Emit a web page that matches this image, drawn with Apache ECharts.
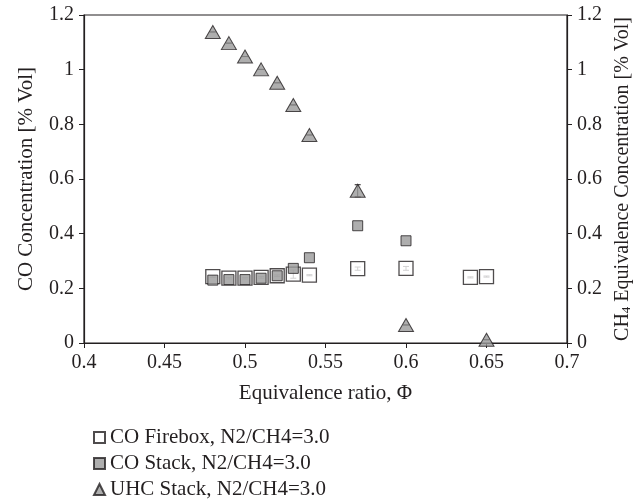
<!DOCTYPE html>
<html>
<head>
<meta charset="utf-8">
<script src="https://cdn.jsdelivr.net/npm/echarts@6/dist/echarts.min.js"></script>
<style>
  html, body { margin: 0; padding: 0; background: #fff; }
  #chart { width: 637px; height: 500px; }
</style>
</head>
<body>
<div id="chart"></div>
<script>
// equivalence ratio values for each series
const phiFirebox = [0.48, 0.49, 0.50, 0.51, 0.52, 0.53, 0.54, 0.57, 0.60, 0.64, 0.65]
const coFirebox = [0.243, 0.237, 0.237, 0.240, 0.246, 0.252, 0.248, 0.272, 0.273, 0.240, 0.243]
const coFireboxErr = [0.003, 0.003, 0.003, 0.003, 0.003, 0.015, 0.002, 0.006, 0.007, 0.002, 0.002]

const phiStack = [0.48, 0.49, 0.50, 0.51, 0.52, 0.53, 0.54, 0.57, 0.60]
const coStack = [0.230, 0.232, 0.232, 0.237, 0.246, 0.273, 0.312, 0.429, 0.374]

const phiUhc = [0.48, 0.49, 0.50, 0.51, 0.52, 0.53, 0.54, 0.57, 0.60, 0.65]
const uhcStack = [1.138, 1.097, 1.048, 1.001, 0.952, 0.871, 0.761, 0.557, 0.066, 0.012]
const uhcErr = [0, 0, 0, 0, 0, 0, 0, 0.022, 0, 0]

const seriesNames = ['CO Firebox, N2/CH4=3.0', 'CO Stack, N2/CH4=3.0', 'UHC Stack, N2/CH4=3.0']

const font = 'Liberation Serif'
const ink = '#231f20'
const fill = '#9a9a9a'

function pairs(xs, ys) {
  return xs.map((x, i) => [x, ys[i]])
}

function errData(xs, ys, es) {
  return xs.map((x, i) => [x, ys[i] - es[i], ys[i] + es[i]])
}

function renderErrorBar(params, api) {
  const lo = api.coord([api.value(0), api.value(1)])
  const hi = api.coord([api.value(0), api.value(2)])
  const cap = 3
  const style = { stroke: ink, lineWidth: 1 }
  return {
    type: 'group',
    children: [
      { type: 'line', shape: { x1: lo[0], y1: lo[1], x2: hi[0], y2: hi[1] }, style },
      { type: 'line', shape: { x1: lo[0] - cap, y1: lo[1], x2: lo[0] + cap, y2: lo[1] }, style },
      { type: 'line', shape: { x1: hi[0] - cap, y1: hi[1], x2: hi[0] + cap, y2: hi[1] }, style }
    ]
  }
}

const yAxisCommon = {
  type: 'value',
  min: 0,
  max: 1.2,
  interval: 0.2,
  nameLocation: 'middle',
  nameRotate: 90,
  nameTextStyle: { fontFamily: font, fontSize: 21, color: ink },
  axisLine: { show: true, lineStyle: { color: ink, width: 1.2 } },
  axisTick: { show: true, inside: false, length: 5, lineStyle: { color: ink } },
  axisLabel: { fontFamily: font, fontSize: 20, color: ink, margin: 10 },
  splitLine: { show: false }
}

const chart = echarts.init(document.getElementById('chart'))
chart.setOption({
  animation: false,
  grid: {
    left: 84,
    right: 70,
    top: 15,
    bottom: 157,
    outerBoundsMode: 'none',
    show: true,
    borderColor: ink,
    borderWidth: 1.2
  },
  legend: {
    data: seriesNames,
    orient: 'vertical',
    left: 88,
    top: 422,
    height: 100,
    itemWidth: 11,
    itemHeight: 11,
    itemGap: 5,
    textStyle: { fontFamily: font, fontSize: 21, lineHeight: 20, color: ink }
  },
  xAxis: {
    type: 'value',
    min: 0.4,
    max: 0.7,
    interval: 0.05,
    name: 'Equivalence ratio, \u03A6',
    nameLocation: 'middle',
    nameGap: 40,
    nameTextStyle: { fontFamily: font, fontSize: 21, color: ink },
    axisLine: { show: true, onZero: false, lineStyle: { color: ink, width: 1.2 } },
    axisTick: { show: true, length: 5, lineStyle: { color: ink } },
    axisLabel: { fontFamily: font, fontSize: 20, color: ink, margin: 10 },
    splitLine: { show: false }
  },
  yAxis: [
    Object.assign({}, yAxisCommon, {
      position: 'left',
      name: 'CO Concentration [% Vol]',
      nameGap: 47
    }),
    Object.assign({}, yAxisCommon, {
      position: 'right',
      name: 'CH{sub|4} Equivalence Concentration [% Vol]',
      nameGap: 45,
      nameTextStyle: {
        fontFamily: font,
        fontSize: 20,
        color: ink,
        rich: {
          sub: { fontFamily: font, fontSize: 13, color: ink, verticalAlign: 'bottom', padding: [8, 0, 0, 0] }
        }
      }
    })
  ],
  series: [
    {
      name: seriesNames[0],
      type: 'scatter',
      symbol: 'rect',
      symbolSize: 14,
      itemStyle: { color: '#fff', borderColor: ink, borderWidth: 1.3 },
      data: pairs(phiFirebox, coFirebox)
    },
    {
      type: 'custom',
      renderItem: renderErrorBar,
      data: errData(phiFirebox, coFirebox, coFireboxErr),
      silent: true
    },
    {
      name: seriesNames[1],
      type: 'scatter',
      symbol: 'rect',
      symbolSize: 10,
      itemStyle: { color: fill, borderColor: ink, borderWidth: 1 },
      data: pairs(phiStack, coStack)
    },
    {
      type: 'custom',
      yAxisIndex: 1,
      renderItem: renderErrorBar,
      data: errData(phiUhc, uhcStack, uhcErr),
      silent: true
    },
    {
      name: seriesNames[2],
      type: 'scatter',
      yAxisIndex: 1,
      symbol: 'triangle',
      symbolSize: [15, 13],
      itemStyle: { color: fill, borderColor: ink, borderWidth: 1 },
      data: pairs(phiUhc, uhcStack)
    }
  ]
})
</script>
</body>
</html>
